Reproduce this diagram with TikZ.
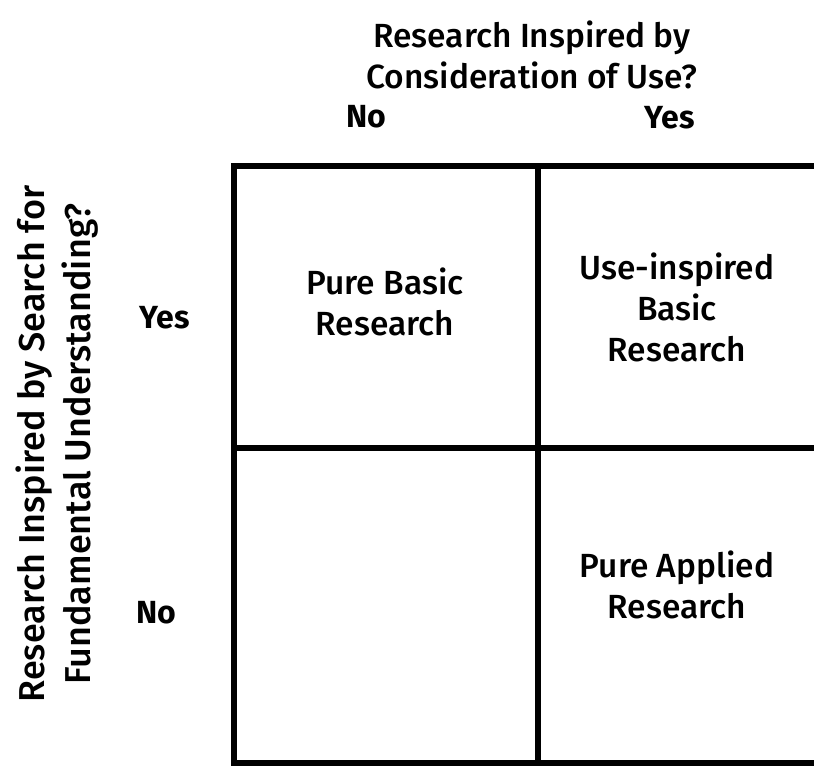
\documentclass[tikz,border=0pt]{standalone}
\usepackage{fontspec}
\setmainfont{Fira Sans}[UprightFont=* Medium, BoldFont=* Bold]
\begin{document}
\begin{tikzpicture}[x=1pt,y=-1pt,
  grid/.style={line width=6.8pt,line cap=rect},
  body/.style={font=\fontsize{33.5}{41}\selectfont,align=center,inner sep=0pt},
  sidebody/.style={font=\fontsize{36}{46}\selectfont,align=center,inner sep=0pt},
  answer/.style={font=\fontsize{32}{40}\selectfont\bfseries,inner sep=0pt}]
\useasboundingbox (0,0) rectangle (814,766);
% grid corners
\coordinate (tl) at (234,166);
\coordinate (tm) at (538,166);
\coordinate (tr) at (814,166);
\coordinate (ml) at (234,448);
\coordinate (mr) at (814,448);
\coordinate (bl) at (234,763);
\coordinate (bm) at (538,763);
\coordinate (br) at (814,763);
\draw[grid] (tr) -- (tl) -- (bl) -- (br);
\draw[grid] (tm) -- (bm);
\draw[grid] (ml) -- (mr);
% headings
\node[body] (top) at (532,55) {Research Inspired by\\Consideration of Use?};
\node[answer] (colno) at (366,117) {No};
\node[answer] (colyes) at (670,118) {Yes};
\node[sidebody,rotate=90] (side) at (57,444) {Research Inspired by Search for\\Fundamental Understanding?};
\node[answer] (rowyes) at (165,318) {Yes};
\node[answer] (rowno) at (156,613) {No};
% cells
\node[body] (pb) at (385,302) {Pure Basic\\Research};
\node[body] (ub) at (677,307) {Use-inspired\\Basic\\Research};
\node[body] (pa) at (677,585) {Pure Applied\\Research};
\end{tikzpicture}
\end{document}
